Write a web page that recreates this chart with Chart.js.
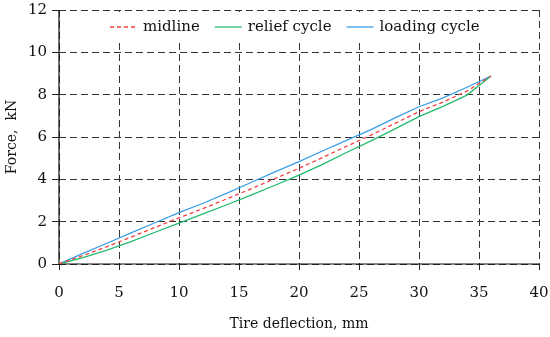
<!DOCTYPE html>
<html lang="en">
	<head>
		<meta charset="UTF-8">
		<title>Force vs tire deflection</title>
		<script src="https://cdn.jsdelivr.net/npm/chart.js"></script>
		<style>
			body { margin: 0; background: #fff; }
			#wrap { width: 550px; height: 337px; }
		</style>
	</head>
	<body>
		<div id="wrap"><canvas id="forceChart"></canvas></div>
		<script>
			// Tire deflection, mm
			const deflection = [0, 2, 4, 6, 8, 10, 12, 14, 16, 18, 20, 22, 24, 26, 28, 30, 32, 34, 36];
			// Force, kN
			const loadingCycle = [0, 0.5, 0.98, 1.47, 1.95, 2.43, 2.87, 3.35, 3.85, 4.35, 4.84, 5.35, 5.85, 6.35, 6.9, 7.43, 7.85, 8.35, 8.88];
			const reliefCycle = [0, 0.3, 0.66, 1.06, 1.5, 1.93, 2.37, 2.8, 3.25, 3.72, 4.2, 4.72, 5.28, 5.82, 6.38, 6.96, 7.45, 7.98, 8.88];
			const midline = [0, 0.4, 0.82, 1.27, 1.73, 2.18, 2.62, 3.08, 3.55, 4.04, 4.52, 5.04, 5.57, 6.09, 6.64, 7.2, 7.65, 8.17, 8.88];
			const xTicks = [0, 5, 10, 15, 20, 25, 30, 35, 40];
			const yTicks = [0, 2, 4, 6, 8, 10, 12];

			const FONT = 'DejaVu Serif';
			const toPoints = ys => deflection.map((x, i) => ({ x: x, y: ys[i] }));

			// legend inside the plot on a white box (hides the grid there),
			// plus solid left/bottom axis lines over the dashed zero grid lines
			const innerLegend = {
				id: 'innerLegend',
				beforeDatasetsDraw(chart) {
					const { ctx, chartArea } = chart;
					ctx.save();
					ctx.fillStyle = '#fff';
					ctx.fillRect(chartArea.left + 2, chartArea.top + 2, chartArea.width - 4, 31);

					ctx.strokeStyle = '#111';
					ctx.lineWidth = 1.2;
					ctx.setLineDash([]);
					ctx.beginPath();
					ctx.moveTo(chartArea.left, chartArea.top);
					ctx.lineTo(chartArea.left, chartArea.bottom);
					ctx.lineTo(chartArea.right, chartArea.bottom);
					ctx.stroke();

					ctx.font = '15px "' + FONT + '"';
					ctx.textBaseline = 'middle';
					let x = chartArea.left + 51;
					const y = chartArea.top + 17;
					chart.data.datasets.forEach(ds => {
						ctx.beginPath();
						ctx.strokeStyle = ds.borderColor;
						ctx.lineWidth = ds.borderWidth;
						ctx.setLineDash(ds.borderDash || []);
						ctx.moveTo(x, y);
						ctx.lineTo(x + 27, y);
						ctx.stroke();
						x += 33;
						ctx.fillStyle = '#111';
						ctx.fillText(ds.label, x, y);
						x += ctx.measureText(ds.label).width + 15;
					});
					ctx.restore();
				}
			};

			const gridOpts = {
				color: '#333',
				lineWidth: 1,
				tickLength: 7,
				tickColor: '#222',
				tickBorderDash: [1, 0]
			};
			const borderOpts = { display: false, dash: [7, 4] };

			new Chart(document.getElementById('forceChart'), {
				type: 'line',
				data: {
					datasets: [
						{ label: 'midline', data: toPoints(midline), borderColor: '#f04040', borderWidth: 1.3, borderDash: [4, 3] },
						{ label: 'relief cycle', data: toPoints(reliefCycle), borderColor: '#22bb6e', borderWidth: 1.3 },
						{ label: 'loading cycle', data: toPoints(loadingCycle), borderColor: '#3a9ee8', borderWidth: 1.3 }
					]
				},
				options: {
					responsive: true,
					maintainAspectRatio: false,
					animation: false,
					layout: { padding: { top: 10, right: 11, left: 0, bottom: 0 } },
					elements: { point: { radius: 0 }, line: { tension: 0 } },
					plugins: { legend: { display: false }, tooltip: { enabled: false } },
					scales: {
						x: {
							type: 'linear',
							min: 0,
							max: 40,
							afterFit: s => { s.height = 73; s.paddingLeft = 0; s.paddingRight = 0; },
							afterBuildTicks: s => { s.ticks = xTicks.map(v => ({ value: v })); },
							border: borderOpts,
							grid: Object.assign({}, gridOpts, { tickLength: 6 }),
							ticks: { color: '#111', padding: 14, font: { family: FONT, size: 15 } },
							title: { display: true, text: 'Tire deflection, mm', color: '#111', padding: { top: 0, bottom: 4 }, font: { family: FONT, size: 14 } }
						},
						y: {
							min: 0,
							max: 12,
							afterFit: s => { s.width = 59; s.paddingTop = 0; s.paddingBottom = 0; },
							afterBuildTicks: s => { s.ticks = yTicks.map(v => ({ value: v })); },
							border: borderOpts,
							grid: gridOpts,
							ticks: { color: '#111', padding: 5, font: { family: FONT, size: 15 } },
							title: { display: true, text: 'Force,  kN', color: '#111', padding: { top: 4, bottom: 0 }, font: { family: FONT, size: 14 } }
						}
					}
				},
				plugins: [innerLegend]
			});
		</script>
	</body>
</html>
